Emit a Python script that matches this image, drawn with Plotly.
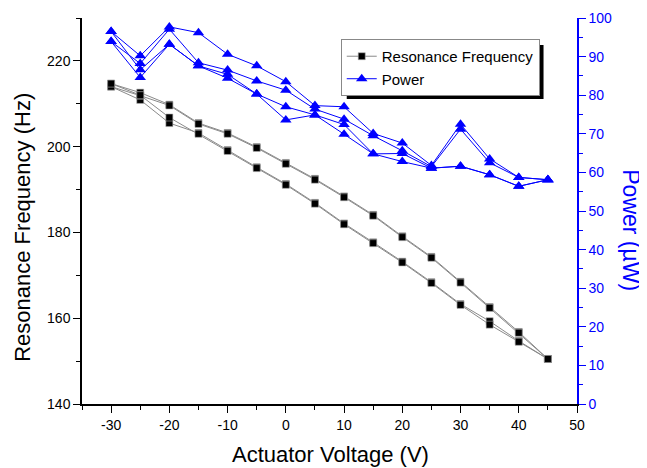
import plotly.graph_objects as go

# Actuator voltage sweep points (V)
voltage = [-30, -25, -20, -15, -10, -5, 0, 5, 10, 15, 20, 25, 30, 35, 40, 45]

# Resonance frequency (Hz): four sweep passes (up, down, up, down)
freq_pass1 = [214.7, 212.6, 209.8, 205.5, 203.2, 199.9, 196.2, 192.5, 188.4, 184.1, 179.1, 174.3, 168.5, 162.6, 156.8, 150.5]
freq_pass2 = [214.0, 210.9, 205.5, 203.2, 199.2, 195.2, 191.3, 186.9, 182.1, 177.7, 173.2, 168.4, 163.3, 159.3, 154.7, 150.5]
freq_pass3 = [214.0, 211.9, 209.6, 205.3, 203.0, 199.7, 196.0, 192.3, 188.2, 183.9, 178.9, 174.1, 168.3, 162.4, 156.6, 150.5]
freq_pass4 = [214.7, 212.0, 206.8, 203.0, 199.0, 195.0, 191.1, 186.7, 181.9, 177.5, 173.0, 168.2, 163.1, 158.5, 154.5, 150.5]

# Power (uW): four sweep passes
power_pass1 = [96.5, 90.2, 97.7, 96.2, 90.6, 87.6, 83.5, 77.3, 77.0, 70.1, 67.6, 61.8, 72.5, 63.5, 58.7, 58.1]
power_pass2 = [93.9, 84.6, 93.2, 87.6, 84.4, 80.3, 73.6, 74.9, 72.4, 64.8, 62.8, 61.1, 61.6, 59.4, 56.4, 58.1]
power_pass3 = [93.9, 88.2, 97.1, 88.4, 86.5, 83.7, 81.3, 76.4, 73.8, 69.5, 65.6, 61.5, 71.2, 62.5, 58.7, 58.1]
power_pass4 = [96.5, 86.6, 93.2, 87.6, 85.4, 80.3, 77.0, 74.9, 69.9, 64.8, 64.9, 61.1, 61.6, 59.4, 56.4, 58.1]

# Tick labels
x_tickvals = [-30, -20, -10, 0, 10, 20, 30, 40, 50]
x_ticktext = ["-30", "-20", "-10", "0", "10", "20", "30", "40", "50"]

rev = voltage[::-1]
x_all = voltage + rev + voltage + rev
freq_all = freq_pass1 + freq_pass2[::-1] + freq_pass3 + freq_pass4[::-1]
power_all = power_pass1 + power_pass2[::-1] + power_pass3 + power_pass4[::-1]

FONT = "Arial, Liberation Sans, sans-serif"
BLUE = "#0000FF"

fig = go.Figure()
fig.add_trace(go.Scatter(
    x=x_all, y=freq_all, name="Resonance Frequency", mode="lines+markers",
    line=dict(color="#8a8a8a", width=1),
    marker=dict(symbol="square", size=7, color="black", line=dict(color="#b0b0b0", width=0.6)),
    yaxis="y"))
fig.add_trace(go.Scatter(
    x=x_all, y=power_all, name="Power", mode="lines+markers",
    line=dict(color=BLUE, width=1),
    marker=dict(symbol="triangle-up", size=10, color=BLUE),
    yaxis="y2"))

OFF = 8  # page body margin
W, H = 647 - OFF, 468 - OFF
L, T = 82 - OFF, 18 - OFF
pw, ph = 495.5, 386.5
R, B = W - L - pw, H - T - ph

def px(xwin):
    return (xwin - OFF - L) / pw

def py(ywin):
    return (T + ph - (ywin - OFF)) / ph

fig.update_layout(
    width=W, height=H,
    margin=dict(l=L, r=R, t=T, b=B, pad=0, autoexpand=False),
    paper_bgcolor="white", plot_bgcolor="white",
    font=dict(family=FONT, size=14, color="black"),
    showlegend=True,
    legend=dict(x=px(341), y=py(39), xanchor="left", yanchor="top",
                bgcolor="white", bordercolor="#888888", borderwidth=1,
                font=dict(size=15, family=FONT), itemwidth=30,
                tracegroupgap=0),
    xaxis=dict(range=[-35, 50], tickmode="array", tickvals=x_tickvals, ticktext=x_ticktext,
               showgrid=False, zeroline=False, showline=True, linecolor="black", linewidth=1.5,
               ticks="outside", ticklen=7, tickwidth=1, tickcolor="black",
               minor=dict(ticks="outside", ticklen=4, dtick=5, tick0=-30, tickcolor="black", showgrid=False),
               tickfont=dict(size=14)),
    xaxis2=dict(range=[-35, 50], overlaying="x", side="top", tickmode="linear", tick0=-30, dtick=5,
                showgrid=False, zeroline=False, showline=True, linecolor="black", linewidth=1.5,
                ticks="inside", ticklen=6, tickcolor="black", showticklabels=False),
    yaxis=dict(range=[140, 230], tickmode="linear", tick0=140, dtick=20,
               showgrid=False, zeroline=False, showline=True, linecolor="black", linewidth=1.5,
               ticks="outside", ticklen=7, tickwidth=1, tickcolor="black",
               minor=dict(ticks="outside", ticklen=4, dtick=10, tick0=140, tickcolor="black", showgrid=False),
               tickfont=dict(size=14)),
    yaxis2=dict(range=[0, 100], overlaying="y", side="right", tickmode="linear", tick0=0, dtick=10,
                showgrid=False, zeroline=False, showline=True, linecolor=BLUE, linewidth=1.5,
                ticks="outside", ticklen=7, tickwidth=1, tickcolor=BLUE,
                minor=dict(ticks="outside", ticklen=4, dtick=5, tick0=0, tickcolor=BLUE, showgrid=False),
                tickfont=dict(size=14, color=BLUE)),
    annotations=[
        dict(text="Actuator Voltage (V)", xref="paper", yref="paper", x=px(331), y=py(455),
             xanchor="center", yanchor="middle", showarrow=False, font=dict(size=22, family=FONT)),
        dict(text="Resonance Frequency (Hz)", xref="paper", yref="paper", x=px(23), y=py(228),
             xanchor="center", yanchor="middle", textangle=-90, showarrow=False,
             font=dict(size=22, family=FONT)),
        dict(text="Power (µW)", xref="paper", yref="paper", x=px(632), y=py(231),
             xanchor="center", yanchor="middle", textangle=90, showarrow=False,
             font=dict(size=23, family=FONT, color=BLUE)),
    ],
    shapes=[
        dict(type="rect", xref="paper", yref="paper", layer="above",
             x0=px(347), x1=px(544), y0=py(45), y1=py(99),
             fillcolor="black", line=dict(width=0)),
    ],
)

fig.write_html("out.html")
